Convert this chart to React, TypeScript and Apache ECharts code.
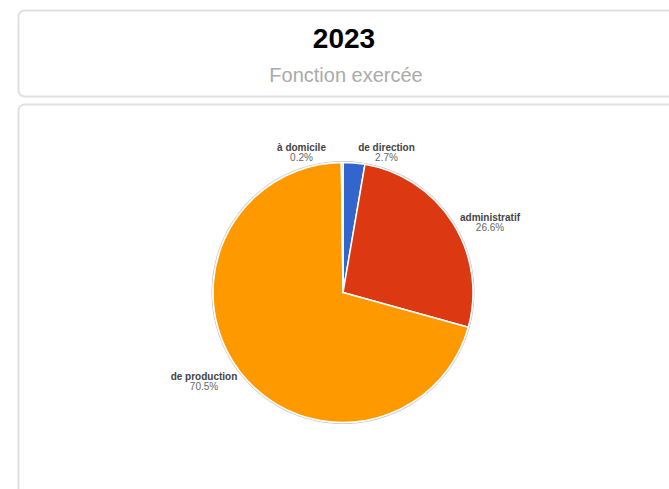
import React, { useEffect, useRef } from "react";
import * as echarts from "echarts";

const titleText = "2023";
const subtitleText = "Fonction exercée";
const categories = ["de direction", "administratif", "de production", "à domicile"];
const values = [2.7, 26.6, 70.5, 0.2];
const colors = ["#3366cc", "#dc3912", "#ff9900", "#109618"];

// label anchors (block centres) relative to pie centre, in px
const labelOffsets: Record<string, [number, number]> = {
  "de direction": [43.5, -140],
  "administratif": [147, -70],
  "de production": [-139, 89],
  "à domicile": [-41.5, -140],
};

const FONT = '"Liberation Sans", Arial, sans-serif';
const CX = 343;
const CY = 292.5;
const R = 130;

export default function App() {
  const ref = useRef<HTMLDivElement>(null);
  useEffect(() => {
    if (!ref.current) return;
    const chart = echarts.init(ref.current, undefined, { renderer: "svg" });
    chart.setOption({
      animation: false,
      backgroundColor: "#ffffff",
      textStyle: { fontFamily: FONT },
      graphic: [
        {
          type: "rect",
          z: -10,
          shape: { x: 18.5, y: 10.5, width: 680, height: 86, r: 6 },
          style: { fill: "#ffffff", stroke: "#e0e0e0", lineWidth: 2 },
        },
        {
          type: "rect",
          z: -10,
          shape: { x: 18.5, y: 104.5, width: 680, height: 420, r: 6 },
          style: { fill: "#ffffff", stroke: "#e0e0e0", lineWidth: 2 },
        },
        {
          type: "text",
          x: 344,
          y: 38,
          style: {
            text: titleText,
            fontSize: 28,
            fontWeight: "bold",
            fontFamily: FONT,
            fill: "#000000",
            align: "center",
            verticalAlign: "middle",
          },
        },
        {
          type: "text",
          x: 346,
          y: 75,
          style: {
            text: subtitleText,
            fontSize: 20,
            fontFamily: FONT,
            fill: "#aaaaaa",
            align: "center",
            verticalAlign: "middle",
          },
        },
      ],
      series: [
        {
          type: "pie",
          center: [CX, CY],
          radius: [R + 0.5, R + 1.5],
          silent: true,
          z: 1,
          label: { show: false },
          labelLine: { show: false },
          itemStyle: { color: "#c8c8c8", borderWidth: 0 },
          data: [{ value: 1, name: "" }],
        },
        {
          type: "pie",
          center: [CX, CY],
          radius: [0, R],
          startAngle: 90,
          clockwise: true,
          avoidLabelOverlap: false,
          z: 2,
          itemStyle: { borderColor: "#ffffff", borderWidth: 1.5 },
          label: {
            show: true,
            position: "outside",
            formatter: (p: any) => `{n|${p.name}}\n{p|${p.percent.toFixed(1)}%}`,
            rich: {
              n: { fontSize: 10, fontWeight: "bold", color: "#444444", lineHeight: 10, align: "center", fontFamily: FONT },
              p: { fontSize: 10, color: "#666666", lineHeight: 10, align: "center", fontFamily: FONT },
            },
          },
          labelLine: { show: false },
          labelLayout: (params: any) => {
            const name = categories[params.dataIndex];
            const off = labelOffsets[name] || [0, 0];
            return { x: CX + off[0], y: CY + off[1], align: "center", verticalAlign: "middle" };
          },
          data: categories.map((c, i) => ({ name: c, value: values[i], itemStyle: { color: colors[i] } })),
        },
      ],
    });
    return () => chart.dispose();
  }, []);
  return (
    <div
      ref={ref}
      style={{ position: "fixed", left: 0, top: 0, width: 669, height: 489, background: "#fff" }}
    />
  );
}
